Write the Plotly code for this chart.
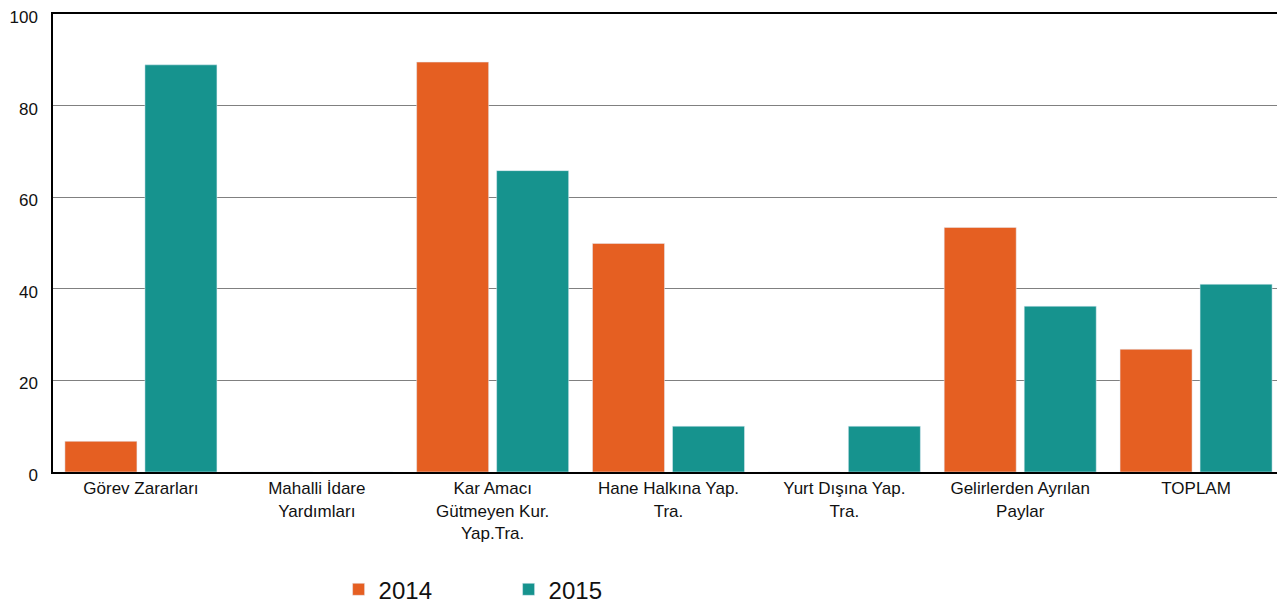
import plotly.graph_objects as go

categories = ["Görev Zararları", "Mahalli İdare<br>Yardımları", "Kar Amacı<br>Gütmeyen Kur.<br>Yap.Tra.",
              "Hane Halkına Yap.<br>Tra.", "Yurt Dışına Yap.<br>Tra.", "Gelirlerden Ayrılan<br>Paylar", "TOPLAM"]
values_2014 = [6.7, 0, 89.5, 49.9, 0, 53.4, 26.8]
values_2015 = [88.9, 0, 65.8, 10.0, 10.0, 36.2, 41.0]
y_ticks = [0, 20, 40, 60, 80, 100]

fig = go.Figure()
fig.add_trace(go.Bar(x=categories, y=values_2014, name="2014", marker_color="#E55F22"))
fig.add_trace(go.Bar(x=categories, y=values_2015, name="2015", marker_color="#16938E"))

fig.update_layout(
    width=1277, height=597,
    margin=dict(l=45, r=1, t=6, b=133, autoexpand=False),
    paper_bgcolor="white", plot_bgcolor="white",
    font=dict(family="Liberation Sans, Arial", color="#111111", size=17),
    barmode="group", bargap=0.09, bargroupgap=0.1,
    legend=dict(orientation="h", x=0.232, y=-0.257, xanchor="left", yanchor="middle",
                font=dict(size=24), itemwidth=30, entrywidth=125, entrywidthmode="pixels",
                tracegroupgap=0),
    showlegend=True,
)
fig.update_xaxes(showline=True, linecolor="black", linewidth=2, mirror=True, ticks="",
                 tickfont=dict(size=17), showgrid=False, automargin=False)
fig.update_yaxes(range=[0, 100], tickvals=y_ticks, showgrid=True, gridcolor="#808080", gridwidth=1,
                 showline=True, linecolor="black", linewidth=1.5, tickfont=dict(size=17),
                 zeroline=False, ticks="", ticklabelstandoff=10, automargin=False,
                 ticklabeloverflow="allow", ticklabelshift=3)
fig.add_shape(type="line", xref="paper", yref="paper", x0=1, x1=1, y0=0, y1=1,
              line=dict(color="#BBBBBB", width=1.5))
fig.write_html("out.html")
